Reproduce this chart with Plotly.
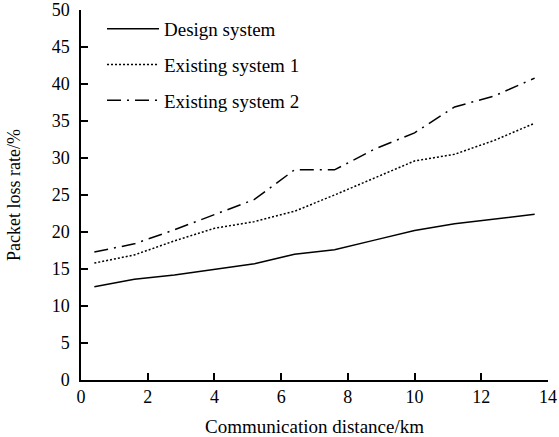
import plotly.graph_objects as go

# Communication distance (km) at each measurement point
distance_km = [0.4, 1.6, 2.8, 4.0, 5.2, 6.4, 7.6, 8.8, 10.0, 11.2, 12.4, 13.6]

# Packet loss rate (%) for each system
design_system = [12.6, 13.6, 14.2, 15.0, 15.7, 17.0, 17.6, 18.9, 20.2, 21.1, 21.7, 22.4]
existing_system_1 = [15.8, 16.9, 18.8, 20.5, 21.4, 22.8, 25.0, 27.3, 29.6, 30.5, 32.4, 34.7]
existing_system_2 = [17.3, 18.4, 20.3, 22.4, 24.4, 28.4, 28.4, 31.2, 33.4, 36.9, 38.4, 40.8]

x_ticks = [0, 2, 4, 6, 8, 10, 12, 14]
y_ticks = [0, 5, 10, 15, 20, 25, 30, 35, 40, 45, 50]

FONT = "Liberation Serif, Times New Roman, serif"

series = [
    ("Design system", design_system, "solid"),
    ("Existing system 1", existing_system_1, "2px,2px"),
    ("Existing system 2", existing_system_2, "14px,6px,2px,6px"),
]

fig = go.Figure()
for i, (name, values, dash) in enumerate(series):
    fig.add_trace(go.Scatter(
        x=distance_km, y=values, name=name, mode="lines",
        legendgroup=f"g{i}",
        line=dict(color="black", width=1.5, dash=dash),
    ))

axis_common = dict(
    showline=True, linecolor="black", linewidth=1.5,
    ticks="inside", ticklen=7, tickwidth=1.5, tickcolor="black",
    showgrid=False, zeroline=False, mirror=False,
    tickfont=dict(family=FONT, size=18, color="black"),
)

fig.update_layout(
    width=559, height=437,
    margin=dict(l=81, r=11, t=10, b=57, autoexpand=False),
    paper_bgcolor="white", plot_bgcolor="white",
    showlegend=True,
    legend=dict(
        x=0.045, y=1.0, xanchor="left", yanchor="top",
        bgcolor="rgba(0,0,0,0)", borderwidth=0,
        font=dict(family=FONT, size=19, color="black"),
        itemwidth=52, tracegroupgap=8,
    ),
    xaxis=dict(
        range=[0, 14], tickvals=x_ticks,
        automargin=False,
        title=dict(text="Communication distance/km",
                   font=dict(family=FONT, size=19, color="black")),
        **axis_common,
    ),
    yaxis=dict(
        range=[0, 50], tickvals=y_ticks,
        automargin="left", ticklabelstandoff=6,
        title=dict(text="Packet loss rate/%", standoff=26,
                   font=dict(family=FONT, size=18, color="black")),
        **axis_common,
    ),
)

fig.write_html("out.html")
